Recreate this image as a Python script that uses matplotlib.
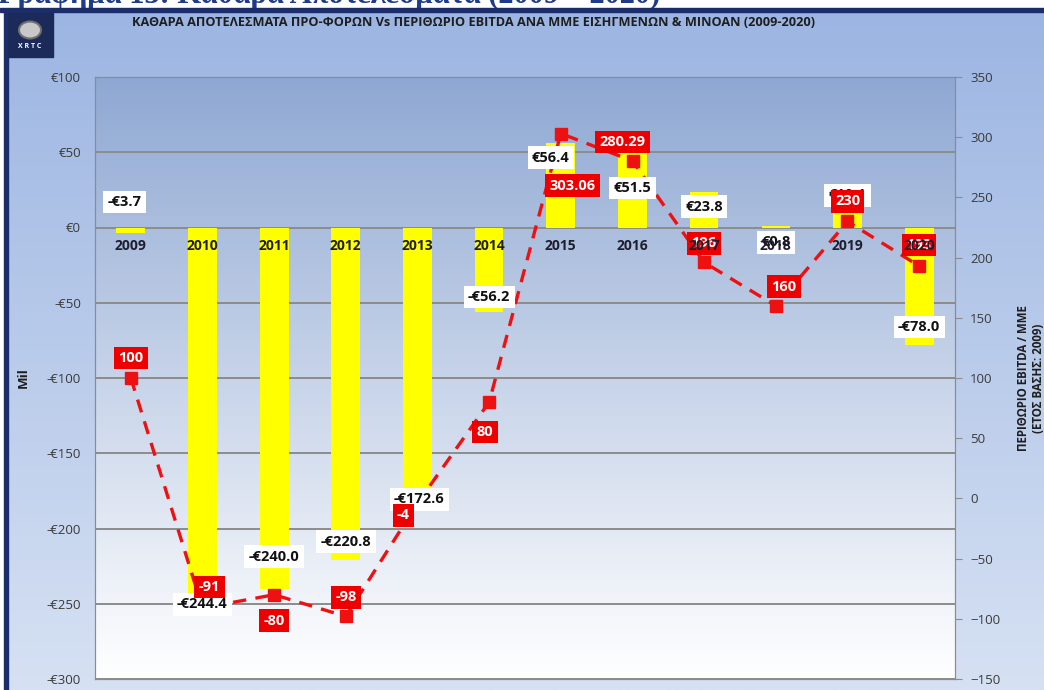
import numpy as np
import matplotlib
matplotlib.use("Agg")
import matplotlib.pyplot as plt
from matplotlib.patches import Rectangle, Ellipse

plt.rcParams['font.family'] = ['Open Sans', 'DejaVu Sans']

# dados
anos = ["2009", "2010", "2011", "2012", "2013", "2014", "2015", "2016", "2017", "2018", "2019", "2020"]
resultados = [-3.7, -244.4, -240.0, -220.8, -172.6, -56.2, 56.4, 51.5, 23.8, 0.8, 10.1, -78.0]
ebitda = [100, -91, -80, -98, -4, 80, 303.06, 280.29, 196, 160, 230, 193]
ebitda_txt = ["100", "-91", "-80", "-98", "-4", "80", "303.06", "280.29", "196", "160", "230", "193"]

# deslocamentos dos rótulos em pixels (x, y para cima)
desl_barras = [(-6, 31), (0, -9), (0, 32), (0, 18), (2, -12), (0, 15),
               (-10, -15), (0, -38), (0, -15), (0, -16), (0, 17), (0, 18)]
desl_linha = [(0, 20), (7, 21), (0, -26), (0, 19), (-14, -12), (-4, -30),
              (12, -52), (-10, 19), (0, 19), (8, 19), (0, 20), (0, 21)]

W, H = 1044, 690
fig = plt.figure(figsize=(W / 100, H / 100), dpi=100, facecolor="white")

def fx(x):
    return x / W

def fy(y):
    return 1 - y / H

# fundo degradê
bg = fig.add_axes([fx(7), 0, 1 - fx(7), fy(11)], zorder=-5)
grad = np.linspace(0, 1, 256).reshape(-1, 1)
c_top = np.array([156, 181, 226]) / 255
c_bot = np.array([214, 225, 243]) / 255
img = c_top + (c_bot - c_top) * grad[..., None]
bg.imshow(img, aspect="auto", extent=[0, 1, 0, 1])
bg.axis("off")

# bordas azul escuro
fig.add_artist(Rectangle((0, fy(11.5)), 1, 3.5 / H, transform=fig.transFigure, color="#1b2d6b", zorder=5))
fig.add_artist(Rectangle((fx(4), 0), 3.5 / W, fy(11), transform=fig.transFigure, color="#1b2d6b", zorder=5))

# título cortado no topo
fig.text(fx(-2), fy(3.5), "Γράφημα 13: Καθαρά Αποτελέσματα (2009 – 2020)", fontsize=22,
         family=["Liberation Serif", "DejaVu Serif"], fontweight="bold", color="#1f3b8a", va="baseline")

# logo
fig.add_artist(Rectangle((fx(8), fy(57)), 45 / W, 44 / H, transform=fig.transFigure, color="#1c2a5a", zorder=6))
fig.add_artist(Ellipse((fx(30), fy(30)), 22 / W, 17 / H, transform=fig.transFigure,
                       fc="#c8c8c8", ec="#6f6f6f", lw=1.5, zorder=7))
fig.text(fx(30), fy(47), "X R T C", fontsize=5, color="white", fontweight="bold",
         ha="center", va="center", zorder=7)

fig.text(fx(474), fy(22), "ΚΑΘΑΡΑ ΑΠΟΤΕΛΕΣΜΑΤΑ ΠΡΟ-ΦΟΡΩΝ Vs ΠΕΡΙΘΩΡΙΟ EBITDA ΑΝΑ ΜΜΕ ΕΙΣΗΓΜΕΝΩΝ & ΜΙΝΟΑΝ (2009-2020)",
         fontsize=9.2, fontweight="bold", color="#1e1e1e", ha="center", va="center")

# área do gráfico
pos = [fx(95), 1 - 679 / H, 860 / W, 602 / H]
pbg = fig.add_axes(pos, zorder=-1)
p_top = np.array([143, 168, 211]) / 255
p_bot = np.array([255, 255, 255]) / 255
img2 = p_top + (p_bot - p_top) * grad[..., None]
pbg.imshow(img2, aspect="auto", extent=[0, 1, 0, 1])
pbg.axis("off")

ax = fig.add_axes(pos)
ax.patch.set_alpha(0)
x = np.arange(len(anos))
ax.bar(x, resultados, width=0.4, color="#ffff00", zorder=2)
ax.set_xlim(-0.5, len(anos) - 0.5)
ax.set_ylim(-300, 100)
ax.set_yticks(np.arange(-300, 101, 50))
ax.set_yticklabels([("-€%d" % -v) if v < 0 else "€%d" % v for v in range(-300, 101, 50)])
ax.yaxis.grid(True, color="#8c8c8c", lw=1.4)
ax.set_axisbelow(True)
ax.set_xticks([])
ax.tick_params(axis="y", length=0, labelsize=9.5, labelcolor="#3a3a3a", pad=10)
for s in ax.spines.values():
    s.set_color("#8c8c8c")
ax.set_ylabel("Mil", fontsize=9.5, fontweight="bold", color="#1e1e1e", labelpad=12)

ax2 = ax.twinx()
ax2.set_ylim(-150, 350)
ax2.set_yticks(np.arange(-150, 351, 50))
ax2.tick_params(axis="y", length=5, color="#8c8c8c", labelsize=9.5, labelcolor="#3a3a3a", pad=6)
for s in ax2.spines.values():
    s.set_color("#8c8c8c")
ax2.plot(x, ebitda, color="#ee1111", lw=2.4, ls=(0, (4, 2.8)), marker="s", markersize=8, zorder=3)
ax2.set_ylabel("ΠΕΡΙΘΩΡΙΟ EBITDA / MME\n(ΕΤΟΣ ΒΑΣΗΣ: 2009)", fontsize=8.3, fontweight="bold",
               color="#1e1e1e", labelpad=12)

k = 0.72  # px -> pt
for i, v in enumerate(resultados):
    txt = ("-€%.1f" % -v) if v < 0 else "€%.1f" % v
    dx, dy = desl_barras[i]
    ax2.annotate(txt, xy=(i, v), xycoords=ax.transData, xytext=(dx * k, dy * k), textcoords="offset points",
                 ha="center", va="center", fontsize=10.5, fontweight="bold", color="#111111", zorder=5,
                 bbox=dict(boxstyle="square,pad=0.3", fc="white", ec="none"))

for i, v in enumerate(ebitda):
    dx, dy = desl_linha[i]
    ax2.annotate(ebitda_txt[i], xy=(i, v), xytext=(dx * k, dy * k), textcoords="offset points",
                 ha="center", va="center", fontsize=10.5, fontweight="bold", color="white", zorder=6,
                 bbox=dict(boxstyle="square,pad=0.3", fc="#ee0000", ec="none"))

for i, a in enumerate(anos):
    ax2.annotate(a, xy=(i, 0), xycoords=ax.transData, xytext=(0, -18 * k), textcoords="offset points",
                 ha="center", va="center", fontsize=10, fontweight="bold", color="#1e1e2e", zorder=7)

plt.savefig("out.png", dpi=100, facecolor=fig.get_facecolor())
